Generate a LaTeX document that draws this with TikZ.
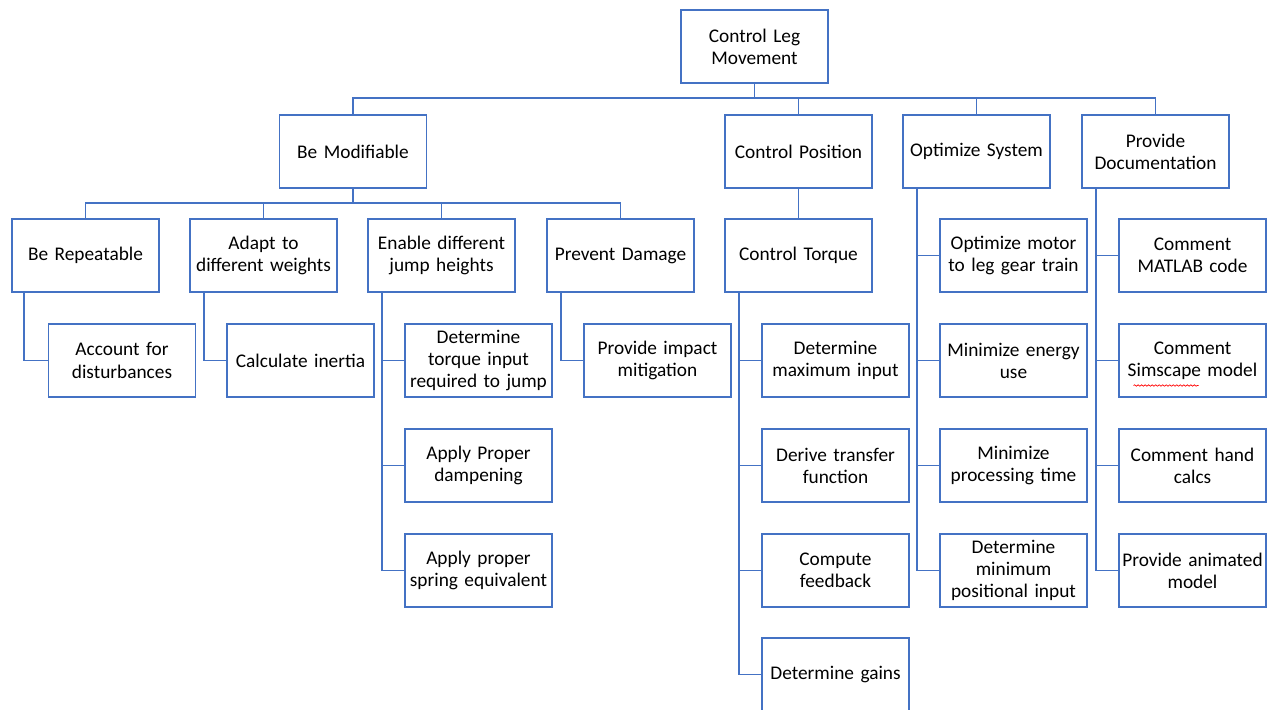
\documentclass[tikz,border=0pt]{standalone}
\usepackage{fontspec}
\setmainfont{Carlito}
\usepackage{xcolor}
\usetikzlibrary{calc}
\usetikzlibrary{decorations.pathmorphing}
\usetikzlibrary{positioning, arrows.meta}

\definecolor{boxblue}{RGB}{68,114,196}

\begin{document}
\begin{tikzpicture}[x=0.02cm, y=-0.02cm]
                % Define the style for the boxes and the lines between them
                \tikzstyle{goal}=[draw=boxblue, line width=1pt, fill=white, minimum width=2.94cm, minimum height=1.46cm, text width=2.86cm, inner xsep=0.04cm, align=center, font=\fontsize{11}{12.6}\selectfont];
                \tikzstyle{link}=[draw=boxblue, line width=1pt];

                % Fix the size of the picture
                \useasboundingbox (0,0) rectangle (1270,711);
                \clip (0,0) rectangle (1270,709);

                % Define the coordinates for the horizontal bars
                \coordinate (bar1) at (0,98);
                \coordinate (bar2) at (0,203);

                % Top goal
                \node[goal] (root) at (754.5,46.5) {Control Leg\\Movement};

                % First level
                \node[goal] (modif) at (353,151.5) {Be Modifiable};
                \node[goal] (pos) at (798.5,151.5) {Control Position};
                \node[goal] (optim) at (976.5,151.5) {Optimize System};
                \node[goal] (doc) at (1155.5,151.5) {Provide\\Documentation};

                % Second level
                \node[goal] (repeat) at (85.5,255.5) {Be Repeatable};
                \node[goal] (adapt) at (263.5,255.5) {Adapt to\\different weights};
                \node[goal] (jump) at (441.5,255.5) {Enable different\\jump heights};
                \node[goal] (damage) at (620.5,255.5) {Prevent Damage};
                \node[goal] (torque) at (798.5,255.5) {Control Torque};
                \node[goal] (motor) at (1013.5,255.5) {Optimize motor\\to leg gear train};
                \node[goal] (matlab) at (1192.5,255.5) {Comment\\MATLAB code};

                % Third level
                \node[goal] (disturb) at (122,360.5) {Account for\\disturbances};
                \node[goal] (inertia) at (300.5,360.5) {Calculate inertia};
                \node[goal] (torqin) at (478.5,360.5) {Determine\\torque input\\required to jump};
                \node[goal] (damping) at (478.5,465.5) {Apply Proper\\dampening};
                \node[goal] (spring) at (478.5,570.5) {Apply proper\\spring equivalent};
                \node[goal] (impact) at (657.5,360.5) {Provide impact\\mitigation};
                \node[goal] (maxin) at (835.5,360.5) {Determine\\maximum input};
                \node[goal] (transfer) at (835.5,465.5) {Derive transfer\\function};
                \node[goal] (feedback) at (835.5,570.5) {Compute\\feedback};
                \node[goal] (gains) at (835.5,674.5) {Determine gains};
                \node[goal] (energy) at (1013.5,360.5) {Minimize energy\\use};
                \node[goal] (proctime) at (1013.5,465.5) {Minimize\\processing time};
                \node[goal] (posin) at (1013.5,570.5) {Determine\\minimum\\positional input};
                \node[goal] (simscape) at (1192.5,360.5) {Comment\\Simscape model};
                \node[goal] (hand) at (1192.5,465.5) {Comment hand\\calcs};
                \node[goal] (animated) at (1192.5,570.5) {Provide animated\\model};

                % Lines from the top goal
                \foreach \child in {modif, pos, optim, doc}
                    \draw[link] (root.south) -- (root.south |- bar1) -| (\child.north);

                % Lines from Be Modifiable
                \foreach \child in {repeat, adapt, jump, damage}
                    \draw[link] (modif.south) -- (modif.south |- bar2) -| (\child.north);

                \draw[link] (pos.south) -- (torque.north);

                % Side lines down to the sub goals
                \draw[link] ([xshift=0.26cm]repeat.south west) |- (disturb.west);
                \draw[link] ([xshift=0.3cm]adapt.south west) |- (inertia.west);
                \foreach \child in {torqin, damping, spring}
                    \draw[link] ([xshift=0.3cm]jump.south west) |- (\child.west);
                \draw[link] ([xshift=0.3cm]damage.south west) |- (impact.west);
                \foreach \child in {maxin, transfer, feedback, gains}
                    \draw[link] ([xshift=0.3cm]torque.south west) |- (\child.west);
                \foreach \child in {motor, energy, proctime, posin}
                    \draw[link] ([xshift=0.3cm]optim.south west) |- (\child.west);
                \foreach \child in {matlab, simscape, hand, animated}
                    \draw[link] ([xshift=0.3cm]doc.south west) |- (\child.west);

                % Spelling mark under Simscape
                \draw[red, line width=0.4pt, decorate, decoration={snake, amplitude=0.4pt, segment length=2pt}]
                    ($(simscape.center)+(-59,25)$) -- ($(simscape.center)+(6,25)$);
            \end{tikzpicture}
\end{document}
